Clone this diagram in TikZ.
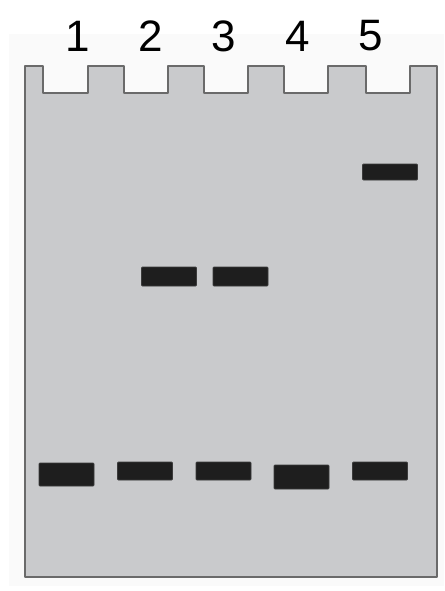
\documentclass[tikz,border=0pt]{standalone}
\usepackage{fontspec}
\setmainfont{Liberation Sans}
\definecolor{gelfill}{HTML}{C9CACC}
\definecolor{geledge}{HTML}{6A6A6A}
\definecolor{bandcol}{HTML}{1E1E1E}
\definecolor{backtint}{HTML}{FAFAFA}
\tikzset{
  band/.style={draw=bandcol!70!gray, line width=0.8pt, fill=bandcol, rounded corners=1pt, inner sep=0pt},
  lanelabel/.style={font=\fontsize{44}{44}\selectfont, text=black, inner sep=0pt}
}
\begin{document}
\begin{tikzpicture}[x=1pt,y=-1pt]
\useasboundingbox (0,0) rectangle (444,591);
\fill[backtint] (9,34) rectangle (444,586);
% gel
\draw[geledge, line width=2pt, fill=gelfill, line join=round]
  (25,577) -- (25,66) -- (43,66) -- (43,93) -- (88,93) -- (88,66) -- (124,66) -- (124,93)
  -- (168,93) -- (168,66) -- (204,66) -- (204,93) -- (248,93) -- (248,66) -- (284,66)
  -- (284,93) -- (328,93) -- (328,66) -- (366,66) -- (366,93) -- (410,93) -- (410,66)
  -- (437,66) -- (437,577) -- cycle;
% labels
\node[lanelabel] (l1) at (78,36) {1};
\node[lanelabel] (l2) at (151,36) {2};
\node[lanelabel] (l3) at (224,36) {3};
\node[lanelabel] (l4) at (298,36) {4};
\node[lanelabel] (l5) at (371,36) {5};
% bands
\node[band, minimum width=55pt, minimum height=23pt] (b1) at (66.5,474.5) {};
\node[band, minimum width=55pt, minimum height=18pt] (b2) at (145,471) {};
\node[band, minimum width=55pt, minimum height=18pt] (b3) at (223.5,471) {};
\node[band, minimum width=55pt, minimum height=24pt] (b4) at (301.5,477) {};
\node[band, minimum width=55pt, minimum height=18pt] (b5) at (380,471) {};
\node[band, minimum width=55pt, minimum height=19pt] (u2) at (169,276.5) {};
\node[band, minimum width=55pt, minimum height=19pt] (u3) at (240.5,276.5) {};
\node[band, minimum width=55pt, minimum height=16pt] (u5) at (390,172) {};
\end{tikzpicture}
\end{document}
